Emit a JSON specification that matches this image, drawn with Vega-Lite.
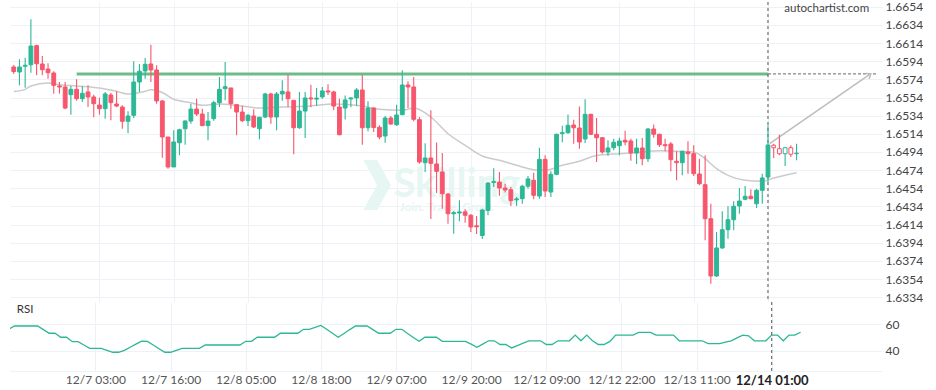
{
  "$schema": "https://vega.github.io/schema/vega-lite/v6.json",
  "background": "white",
  "padding": {"left": 10, "top": 0, "right": 0, "bottom": 0},
  "spacing": 0,
  "bounds": "flush",
  "config": {
    "view": {"stroke": null},
    "axis": {"labelFont": "Lato", "gridColor": "#eef1f5", "gridWidth": 1},
    "text": {"font": "Lato"}
  },
  "datasets": {
    "candles": [
      {"i":0,"open":1.65876,"high":1.65898,"low":1.65799,"close":1.65826,"rsi":56.2},
      {"i":1,"open":1.65821,"high":1.65961,"low":1.65674,"close":1.65876,"rsi":58.7},
      {"i":2,"open":1.65884,"high":1.65978,"low":1.65648,"close":1.65895,"rsi":58.7},
      {"i":3,"open":1.65901,"high":1.66401,"low":1.65813,"close":1.66107,"rsi":58.7},
      {"i":4,"open":1.66111,"high":1.66122,"low":1.65785,"close":1.65912,"rsi":58.7},
      {"i":5,"open":1.65909,"high":1.65997,"low":1.65785,"close":1.65846,"rsi":58.7},
      {"i":6,"open":1.65854,"high":1.65917,"low":1.65747,"close":1.65813,"rsi":56.0},
      {"i":7,"open":1.65810,"high":1.65829,"low":1.65582,"close":1.65674,"rsi":53.2},
      {"i":8,"open":1.65667,"high":1.65711,"low":1.65582,"close":1.65655,"rsi":53.2},
      {"i":9,"open":1.65656,"high":1.65711,"low":1.65410,"close":1.65424,"rsi":50.2},
      {"i":10,"open":1.65571,"high":1.65667,"low":1.65351,"close":1.65630,"rsi":50.2},
      {"i":11,"open":1.65630,"high":1.65740,"low":1.65505,"close":1.65527,"rsi":46.8},
      {"i":12,"open":1.65527,"high":1.65667,"low":1.65490,"close":1.65586,"rsi":46.8},
      {"i":13,"open":1.65601,"high":1.65674,"low":1.65435,"close":1.65546,"rsi":44.3},
      {"i":14,"open":1.65546,"high":1.65571,"low":1.65322,"close":1.65472,"rsi":41.8},
      {"i":15,"open":1.65457,"high":1.65538,"low":1.65351,"close":1.65417,"rsi":41.8},
      {"i":16,"open":1.65417,"high":1.65601,"low":1.65307,"close":1.65579,"rsi":41.8},
      {"i":17,"open":1.65568,"high":1.65593,"low":1.65289,"close":1.65483,"rsi":40.3},
      {"i":18,"open":1.65468,"high":1.65608,"low":1.65432,"close":1.65446,"rsi":38.8},
      {"i":19,"open":1.65435,"high":1.65454,"low":1.65196,"close":1.65278,"rsi":38.8},
      {"i":20,"open":1.65278,"high":1.65388,"low":1.65146,"close":1.65336,"rsi":40.2},
      {"i":21,"open":1.65344,"high":1.65939,"low":1.65314,"close":1.65711,"rsi":42.6},
      {"i":22,"open":1.65711,"high":1.65909,"low":1.65601,"close":1.65829,"rsi":45.0},
      {"i":23,"open":1.65832,"high":1.65975,"low":1.65747,"close":1.65906,"rsi":47.3},
      {"i":24,"open":1.65909,"high":1.66122,"low":1.65711,"close":1.65843,"rsi":47.0},
      {"i":25,"open":1.65843,"high":1.65895,"low":1.65472,"close":1.65502,"rsi":44.3},
      {"i":26,"open":1.65502,"high":1.65509,"low":1.64877,"close":1.65105,"rsi":41.5},
      {"i":27,"open":1.65105,"high":1.65105,"low":1.64756,"close":1.64775,"rsi":38.8},
      {"i":28,"open":1.64775,"high":1.65179,"low":1.64775,"close":1.65050,"rsi":38.8},
      {"i":29,"open":1.65042,"high":1.65196,"low":1.64904,"close":1.65185,"rsi":40.3},
      {"i":30,"open":1.65196,"high":1.65289,"low":1.65020,"close":1.65281,"rsi":41.8},
      {"i":31,"open":1.65281,"high":1.65472,"low":1.65252,"close":1.65413,"rsi":41.8},
      {"i":32,"open":1.65413,"high":1.65527,"low":1.65336,"close":1.65358,"rsi":41.8},
      {"i":33,"open":1.65358,"high":1.65417,"low":1.65226,"close":1.65230,"rsi":41.8},
      {"i":34,"open":1.65230,"high":1.65380,"low":1.65069,"close":1.65281,"rsi":44.3},
      {"i":35,"open":1.65307,"high":1.65505,"low":1.65285,"close":1.65483,"rsi":44.3},
      {"i":36,"open":1.65483,"high":1.65766,"low":1.65435,"close":1.65630,"rsi":44.3},
      {"i":37,"open":1.65637,"high":1.65931,"low":1.65509,"close":1.65659,"rsi":44.3},
      {"i":38,"open":1.65645,"high":1.65645,"low":1.65417,"close":1.65472,"rsi":44.3},
      {"i":39,"open":1.65461,"high":1.65461,"low":1.65124,"close":1.65380,"rsi":44.3},
      {"i":40,"open":1.65380,"high":1.65446,"low":1.65270,"close":1.65285,"rsi":44.3},
      {"i":41,"open":1.65285,"high":1.65358,"low":1.65226,"close":1.65344,"rsi":47.1},
      {"i":42,"open":1.65336,"high":1.65410,"low":1.65204,"close":1.65215,"rsi":47.1},
      {"i":43,"open":1.65196,"high":1.65329,"low":1.65080,"close":1.65322,"rsi":50.2},
      {"i":44,"open":1.65325,"high":1.65593,"low":1.65314,"close":1.65579,"rsi":50.2},
      {"i":45,"open":1.65579,"high":1.65593,"low":1.65252,"close":1.65325,"rsi":50.2},
      {"i":46,"open":1.65325,"high":1.65601,"low":1.65179,"close":1.65579,"rsi":50.2},
      {"i":47,"open":1.65579,"high":1.65729,"low":1.65505,"close":1.65608,"rsi":53.2},
      {"i":48,"open":1.65601,"high":1.65791,"low":1.65435,"close":1.65527,"rsi":53.2},
      {"i":49,"open":1.65509,"high":1.65509,"low":1.64915,"close":1.65207,"rsi":53.2},
      {"i":50,"open":1.65207,"high":1.65601,"low":1.65196,"close":1.65391,"rsi":53.2},
      {"i":51,"open":1.65391,"high":1.65601,"low":1.65094,"close":1.65535,"rsi":56.2},
      {"i":52,"open":1.65535,"high":1.65681,"low":1.65432,"close":1.65524,"rsi":56.2},
      {"i":53,"open":1.65522,"high":1.65645,"low":1.65446,"close":1.65533,"rsi":57.7},
      {"i":54,"open":1.65546,"high":1.65656,"low":1.65527,"close":1.65612,"rsi":59.2},
      {"i":55,"open":1.65612,"high":1.65685,"low":1.65568,"close":1.65601,"rsi":56.2},
      {"i":56,"open":1.65601,"high":1.65615,"low":1.65399,"close":1.65446,"rsi":53.2},
      {"i":57,"open":1.65435,"high":1.65527,"low":1.65124,"close":1.65130,"rsi":50.2},
      {"i":58,"open":1.65424,"high":1.65562,"low":1.65298,"close":1.65513,"rsi":53.0},
      {"i":59,"open":1.65524,"high":1.65546,"low":1.65432,"close":1.65535,"rsi":56.0},
      {"i":60,"open":1.65535,"high":1.65645,"low":1.65446,"close":1.65623,"rsi":58.7},
      {"i":61,"open":1.65623,"high":1.65791,"low":1.65020,"close":1.65207,"rsi":58.7},
      {"i":62,"open":1.65207,"high":1.65498,"low":1.65168,"close":1.65424,"rsi":58.7},
      {"i":63,"open":1.65424,"high":1.65432,"low":1.65160,"close":1.65210,"rsi":56.0},
      {"i":64,"open":1.65212,"high":1.65234,"low":1.65080,"close":1.65105,"rsi":53.2},
      {"i":65,"open":1.65116,"high":1.65336,"low":1.65042,"close":1.65314,"rsi":53.2},
      {"i":66,"open":1.65314,"high":1.65336,"low":1.65240,"close":1.65248,"rsi":53.2},
      {"i":67,"open":1.65240,"high":1.65461,"low":1.65226,"close":1.65347,"rsi":56.2},
      {"i":68,"open":1.65351,"high":1.65840,"low":1.65344,"close":1.65678,"rsi":56.2},
      {"i":69,"open":1.65678,"high":1.65718,"low":1.65424,"close":1.65656,"rsi":53.0},
      {"i":70,"open":1.65656,"high":1.65766,"low":1.65278,"close":1.65300,"rsi":50.0},
      {"i":71,"open":1.65296,"high":1.65325,"low":1.64811,"close":1.64830,"rsi":47.1},
      {"i":72,"open":1.64822,"high":1.65036,"low":1.64720,"close":1.64874,"rsi":50.2},
      {"i":73,"open":1.64874,"high":1.65399,"low":1.64202,"close":1.64815,"rsi":50.2},
      {"i":74,"open":1.64808,"high":1.65044,"low":1.64488,"close":1.64727,"rsi":50.2},
      {"i":75,"open":1.64720,"high":1.64929,"low":1.64315,"close":1.64481,"rsi":47.1},
      {"i":76,"open":1.64477,"high":1.64488,"low":1.64150,"close":1.64260,"rsi":47.1},
      {"i":77,"open":1.64260,"high":1.64290,"low":1.64040,"close":1.64272,"rsi":47.1},
      {"i":78,"open":1.64268,"high":1.64408,"low":1.64177,"close":1.64280,"rsi":47.1},
      {"i":79,"open":1.64281,"high":1.64309,"low":1.64161,"close":1.64243,"rsi":47.1},
      {"i":80,"open":1.64243,"high":1.64257,"low":1.64059,"close":1.64114,"rsi":45.0},
      {"i":81,"open":1.64127,"high":1.64235,"low":1.64037,"close":1.64116,"rsi":42.6},
      {"i":82,"open":1.64020,"high":1.64315,"low":1.63982,"close":1.64301,"rsi":45.0},
      {"i":83,"open":1.64296,"high":1.64609,"low":1.64243,"close":1.64598,"rsi":47.5},
      {"i":84,"open":1.64604,"high":1.64760,"low":1.64554,"close":1.64614,"rsi":47.5},
      {"i":85,"open":1.64609,"high":1.64720,"low":1.64459,"close":1.64543,"rsi":44.7},
      {"i":86,"open":1.64543,"high":1.64591,"low":1.64494,"close":1.64521,"rsi":44.7},
      {"i":87,"open":1.64525,"high":1.64554,"low":1.64345,"close":1.64404,"rsi":42.1},
      {"i":88,"open":1.64413,"high":1.64444,"low":1.64345,"close":1.64423,"rsi":43.9},
      {"i":89,"open":1.64426,"high":1.64580,"low":1.64370,"close":1.64563,"rsi":45.7},
      {"i":90,"open":1.64563,"high":1.64676,"low":1.64536,"close":1.64643,"rsi":47.5},
      {"i":91,"open":1.64628,"high":1.64712,"low":1.64419,"close":1.64463,"rsi":47.5},
      {"i":92,"open":1.64455,"high":1.64987,"low":1.64426,"close":1.64859,"rsi":47.5},
      {"i":93,"open":1.64859,"high":1.64904,"low":1.64444,"close":1.64510,"rsi":44.7},
      {"i":94,"open":1.64499,"high":1.64727,"low":1.64444,"close":1.64694,"rsi":44.7},
      {"i":95,"open":1.64694,"high":1.65141,"low":1.64683,"close":1.65135,"rsi":47.5},
      {"i":96,"open":1.65142,"high":1.65230,"low":1.65047,"close":1.65153,"rsi":47.5},
      {"i":97,"open":1.65152,"high":1.65353,"low":1.65141,"close":1.65234,"rsi":47.5},
      {"i":98,"open":1.65237,"high":1.65296,"low":1.65031,"close":1.65207,"rsi":51.8},
      {"i":99,"open":1.65204,"high":1.65441,"low":1.64976,"close":1.65050,"rsi":47.5},
      {"i":100,"open":1.65083,"high":1.65520,"low":1.65039,"close":1.65355,"rsi":51.8},
      {"i":101,"open":1.65355,"high":1.65362,"low":1.65127,"close":1.65135,"rsi":47.5},
      {"i":102,"open":1.65135,"high":1.65314,"low":1.64830,"close":1.65097,"rsi":44.7},
      {"i":103,"open":1.65097,"high":1.65105,"low":1.64921,"close":1.64940,"rsi":44.7},
      {"i":104,"open":1.64940,"high":1.65069,"low":1.64896,"close":1.64984,"rsi":47.0},
      {"i":105,"open":1.64987,"high":1.65086,"low":1.64959,"close":1.65047,"rsi":51.8},
      {"i":106,"open":1.65009,"high":1.65097,"low":1.64904,"close":1.65061,"rsi":51.8},
      {"i":107,"open":1.65069,"high":1.65174,"low":1.65014,"close":1.65050,"rsi":51.8},
      {"i":108,"open":1.65061,"high":1.65086,"low":1.64844,"close":1.64929,"rsi":51.8},
      {"i":109,"open":1.64929,"high":1.65086,"low":1.64808,"close":1.64984,"rsi":53.9},
      {"i":110,"open":1.64984,"high":1.65094,"low":1.64793,"close":1.64866,"rsi":53.9},
      {"i":111,"open":1.64866,"high":1.65204,"low":1.64830,"close":1.65193,"rsi":53.9},
      {"i":112,"open":1.65193,"high":1.65243,"low":1.65097,"close":1.65135,"rsi":51.8},
      {"i":113,"open":1.65135,"high":1.65141,"low":1.64995,"close":1.65020,"rsi":51.8},
      {"i":114,"open":1.65020,"high":1.65086,"low":1.64948,"close":1.65009,"rsi":51.8},
      {"i":115,"open":1.65028,"high":1.65050,"low":1.64727,"close":1.64855,"rsi":51.8},
      {"i":116,"open":1.64837,"high":1.64948,"low":1.64628,"close":1.64822,"rsi":47.5},
      {"i":117,"open":1.64822,"high":1.64954,"low":1.64683,"close":1.64948,"rsi":47.5},
      {"i":118,"open":1.64940,"high":1.65058,"low":1.64701,"close":1.64921,"rsi":47.5},
      {"i":119,"open":1.64921,"high":1.65014,"low":1.64676,"close":1.64701,"rsi":47.5},
      {"i":120,"open":1.64698,"high":1.64866,"low":1.64573,"close":1.64591,"rsi":47.5},
      {"i":121,"open":1.64580,"high":1.64904,"low":1.63967,"close":1.64205,"rsi":45.3},
      {"i":122,"open":1.64205,"high":1.64370,"low":1.63489,"close":1.63574,"rsi":45.3},
      {"i":123,"open":1.63574,"high":1.64059,"low":1.63563,"close":1.63883,"rsi":45.3},
      {"i":124,"open":1.63883,"high":1.64287,"low":1.63875,"close":1.64084,"rsi":46.4},
      {"i":125,"open":1.64084,"high":1.64342,"low":1.63985,"close":1.64194,"rsi":47.5},
      {"i":126,"open":1.64194,"high":1.64397,"low":1.64078,"close":1.64342,"rsi":49.7},
      {"i":127,"open":1.64345,"high":1.64543,"low":1.64260,"close":1.64400,"rsi":51.8},
      {"i":128,"open":1.64419,"high":1.64565,"low":1.64408,"close":1.64452,"rsi":51.3},
      {"i":129,"open":1.64452,"high":1.64529,"low":1.64419,"close":1.64426,"rsi":47.5},
      {"i":130,"open":1.64370,"high":1.64536,"low":1.64323,"close":1.64518,"rsi":47.5},
      {"i":131,"open":1.64518,"high":1.64701,"low":1.64370,"close":1.64654,"rsi":47.5},
      {"i":132,"open":1.64665,"high":1.65232,"low":1.64609,"close":1.65017,"rsi":51.8},
      {"i":133,"open":1.65014,"high":1.65031,"low":1.64874,"close":1.64987,"rsi":51.8},
      {"i":134,"open":1.64976,"high":1.65130,"low":1.64904,"close":1.64921,"rsi":47.5},
      {"i":135,"open":1.64921,"high":1.64995,"low":1.64786,"close":1.64987,"rsi":51.8},
      {"i":136,"open":1.64987,"high":1.65014,"low":1.64885,"close":1.64915,"rsi":51.8},
      {"i":137,"open":1.64921,"high":1.65031,"low":1.64848,"close":1.64927,"rsi":54.0}
    ],
    "ma": [
      {"i":0,"ma":1.65606},{"i":2,"ma":1.65630},{"i":3,"ma":1.65667},{"i":6,"ma":1.65700},
      {"i":8,"ma":1.65681},{"i":11,"ma":1.65667},{"i":15,"ma":1.65645},{"i":18,"ma":1.65608},
      {"i":20,"ma":1.65579},{"i":23,"ma":1.65608},{"i":24,"ma":1.65626},{"i":26,"ma":1.65595},
      {"i":28,"ma":1.65520},{"i":31,"ma":1.65483},{"i":33,"ma":1.65454},{"i":36,"ma":1.65468},
      {"i":39,"ma":1.65454},{"i":43,"ma":1.65424},{"i":47,"ma":1.65435},{"i":52,"ma":1.65446},
      {"i":56,"ma":1.65468},{"i":61,"ma":1.65446},{"i":64,"ma":1.65410},{"i":68,"ma":1.65399},
      {"i":70,"ma":1.65424},{"i":73,"ma":1.65325},{"i":76,"ma":1.65141},{"i":79,"ma":1.65014},
      {"i":82,"ma":1.64896},{"i":85,"ma":1.64848},{"i":88,"ma":1.64793},{"i":91,"ma":1.64745},
      {"i":93,"ma":1.64738},{"i":96,"ma":1.64793},{"i":99,"ma":1.64837},{"i":102,"ma":1.64901},
      {"i":106,"ma":1.64921},{"i":109,"ma":1.64932},{"i":113,"ma":1.64954},{"i":116,"ma":1.64948},
      {"i":119,"ma":1.64940},{"i":121,"ma":1.64866},{"i":123,"ma":1.64756},{"i":125,"ma":1.64683},
      {"i":128,"ma":1.64628},{"i":131,"ma":1.64617},{"i":133,"ma":1.64654},{"i":137,"ma":1.64712}
    ],
    "level": [{"i":11,"price":1.658},{"i":132,"price":1.658}],
    "projection": [{"i":132,"price":1.658},{"i":151.08,"price":1.658}],
    "arrow": [{"i":132.3,"price":1.65031},{"i":150,"price":1.65802}],
    "arrowhead": [{"i":150,"price":1.65802}],
    "now": [{"i":132}],
    "brand": [{"i":149.7,"price":1.66515,"label":"autochartist.com"}],
    "panel": [{"i":1.4,"rsi":70.8,"label":"RSI"}],
    "watermark": [
      {"i":77.55,"price":1.64444,"label":"Skilling"},
      {"i":75.8,"price":1.64290,"label":"Join. Trade. Grow."}
    ],
    "logo": [{"i":63.6,"price":1.64576}]
  },
  "vconcat": [
    {
      "width": 872,
      "height": 300,
      "layer": [
        {
          "data": {"name": "watermark"},
          "transform": [{"filter": "datum.label == 'Skilling'"}],
          "mark": {"type":"text","align":"center","baseline":"alphabetic","fontSize":40,"fontWeight":"bold","color":"#e6f6f2","font":"Lato"},
          "encoding": {
            "x": {"field":"i","type":"quantitative","scale":{"domain":[0.22,151.08],"nice":false,"zero":false},"axis":{"title":null}},
            "y": {"field":"price","type":"quantitative","scale":{"domain":[1.632878,1.665918],"nice":false,"zero":false},"axis":{"title":null}},
            "text": {"field":"label"}
          }
        },
        {
          "data": {"name": "watermark"},
          "transform": [{"filter": "datum.label != 'Skilling'"}],
          "mark": {"type":"text","align":"center","baseline":"alphabetic","fontSize":12,"fontWeight":"bold","color":"#e6f6f2","font":"Lato"},
          "encoding": {
            "x": {"field":"i","type":"quantitative","axis":{"title":null}},
            "y": {"field":"price","type":"quantitative","axis":{"title":null}},
            "text": {"field":"label"}
          }
        },
        {
          "data": {"name": "logo"},
          "mark": {"type":"point","shape":"M-0.55,-1L0,-1L0.55,0L0,1L-0.55,1L0,0Z","size":2500,"filled":true,"color":"#e6f6f2","opacity":1},
          "encoding": {
            "x": {"field":"i","type":"quantitative","axis":{"title":null}},
            "y": {"field":"price","type":"quantitative","axis":{"title":null}}
          }
        },
        {
          "data": {"name": "ma"},
          "mark": {"type":"line","color":"#cbcbcb","strokeWidth":1.5,"interpolate":"monotone","clip":true},
          "encoding": {
            "x": {"field":"i","type":"quantitative","axis":{"title":null}},
            "y": {"field":"ma","type":"quantitative","axis":{"title":null}}
          }
        },
        {
          "data": {"name": "level"},
          "mark": {"type":"line","color":"#6cbd85","strokeWidth":3},
          "encoding": {
            "x": {"field":"i","type":"quantitative","axis":{"title":null}},
            "y": {"field":"price","type":"quantitative","axis":{"title":null}}
          }
        },
        {
          "data": {"name": "projection"},
          "mark": {"type":"line","color":"#666666","strokeWidth":1,"strokeDash":[3,2]},
          "encoding": {
            "x": {"field":"i","type":"quantitative","axis":{"title":null}},
            "y": {"field":"price","type":"quantitative","axis":{"title":null}}
          }
        },
        {
          "data": {"name": "arrow"},
          "mark": {"type":"line","color":"#bdbdbd","strokeWidth":1.5},
          "encoding": {
            "x": {"field":"i","type":"quantitative","axis":{"title":null}},
            "y": {"field":"price","type":"quantitative","axis":{"title":null}}
          }
        },
        {
          "data": {"name": "arrowhead"},
          "mark": {"type":"point","shape":"M-1,-0.75L0,0L-1,0.75","size":80,"filled":false,"color":"#bdbdbd","strokeWidth":1.5,"angle":-34.4,"opacity":1},
          "encoding": {
            "x": {"field":"i","type":"quantitative","axis":{"title":null}},
            "y": {"field":"price","type":"quantitative","axis":{"title":null}}
          }
        },
        {
          "data": {"name": "now"},
          "mark": {"type":"rule","color":"#555555","strokeWidth":1,"strokeDash":[3,3]},
          "encoding": {
            "x": {"field":"i","type":"quantitative","axis":{"title":null}}
          }
        },
        {
          "data": {"name": "candles"},
          "mark": {"type":"rule","strokeWidth":1.1,"clip":true},
          "encoding": {
            "x": {"field":"i","type":"quantitative",
              "axis": {"values":[15,28,41,54,67,80,93,106,119,132],"tickCount":20,"grid":true,"labels":false,"ticks":false,"domain":false,"title":null}},
            "y": {"field":"low","type":"quantitative",
              "axis": {"orient":"right","values":[1.6334,1.6354,1.6374,1.6394,1.6414,1.6434,1.6454,1.6474,1.6494,1.6514,1.6534,1.6554,1.6574,1.6594,1.6614,1.6634,1.6654],
                "tickCount":40,"format":".4f","grid":true,"ticks":false,"domain":false,"labelPadding":3,"labelFontSize":12,"labelColor":"#444444","labelOverlap":false,"title":null}},
            "y2": {"field":"high"},
            "color": {"condition":{"test":"datum.close >= datum.open","value":"#2cb796"},"value":"#f7566c"}
          }
        },
        {
          "data": {"name": "candles"},
          "mark": {"type":"bar","size":3.8,"strokeWidth":1,"clip":true},
          "encoding": {
            "x": {"field":"i","type":"quantitative","axis":{"title":null}},
            "y": {"field":"open","type":"quantitative","axis":{"title":null}},
            "y2": {"field":"close"},
            "fill": {"condition":[{"test":"datum.i > 132","value":"#ffffff"},{"test":"datum.close >= datum.open","value":"#2cb796"}],"value":"#f7566c"},
            "stroke": {"condition":{"test":"datum.close >= datum.open","value":"#2cb796"},"value":"#f7566c"}
          }
        },
        {
          "data": {"name": "brand"},
          "mark": {"type":"text","align":"right","baseline":"middle","fontSize":11.5,"color":"#444444","font":"Lato"},
          "encoding": {
            "x": {"field":"i","type":"quantitative","axis":{"title":null}},
            "y": {"field":"price","type":"quantitative","axis":{"title":null}},
            "text": {"field":"label"}
          }
        }
      ]
    },
    {
      "width": 872,
      "height": 69,
      "layer": [
        {
          "data": {"name": "candles"},
          "mark": {"type":"line","color":"#2cb796","strokeWidth":1.3,"clip":true},
          "encoding": {
            "x": {"field":"i","type":"quantitative","scale":{"domain":[0.22,151.08],"nice":false,"zero":false},
              "axis": {"values":[15,28,41,54,67,80,93,106,119,132],"tickCount":20,
                "labelExpr":"['12/7 03:00','12/7 16:00','12/8 05:00','12/8 18:00','12/9 07:00','12/9 20:00','12/12 09:00','12/12 22:00','12/13 11:00','12/14 01:00'][round((datum.value-15)/13)]",
                "grid":true,"ticks":false,"domain":true,"domainColor":"#eef1f5","labelPadding":3,"labelOverlap":false,"labelBaseline":"top",
                "labelFontSize":{"condition":{"test":"datum.value == 132","value":13},"value":12},
                "labelFontWeight":{"condition":{"test":"datum.value == 132","value":"bold"},"value":"normal"},
                "labelColor":{"condition":{"test":"datum.value == 132","value":"#222222"},"value":"#555555"},
                "title":null}},
            "y": {"field":"rsi","type":"quantitative","scale":{"domain":[24.6,76.9],"nice":false,"zero":false},
              "axis": {"orient":"right","values":[40,60],"tickCount":10,"grid":true,"ticks":false,"domain":false,"labelPadding":3,"labelFontSize":12,"labelColor":"#444444","title":null}}
          }
        },
        {
          "data": {"name": "now"},
          "mark": {"type":"rule","color":"#555555","strokeWidth":1,"strokeDash":[3,3]},
          "encoding": {
            "x": {"field":"i","type":"quantitative","axis":{"title":null}}
          }
        },
        {
          "data": {"name": "panel"},
          "mark": {"type":"text","align":"left","baseline":"middle","fontSize":11.5,"color":"#333333","font":"Lato"},
          "encoding": {
            "x": {"field":"i","type":"quantitative","axis":{"title":null}},
            "y": {"field":"rsi","type":"quantitative","axis":{"title":null}},
            "text": {"field":"label"}
          }
        }
      ]
    }
  ]
}
